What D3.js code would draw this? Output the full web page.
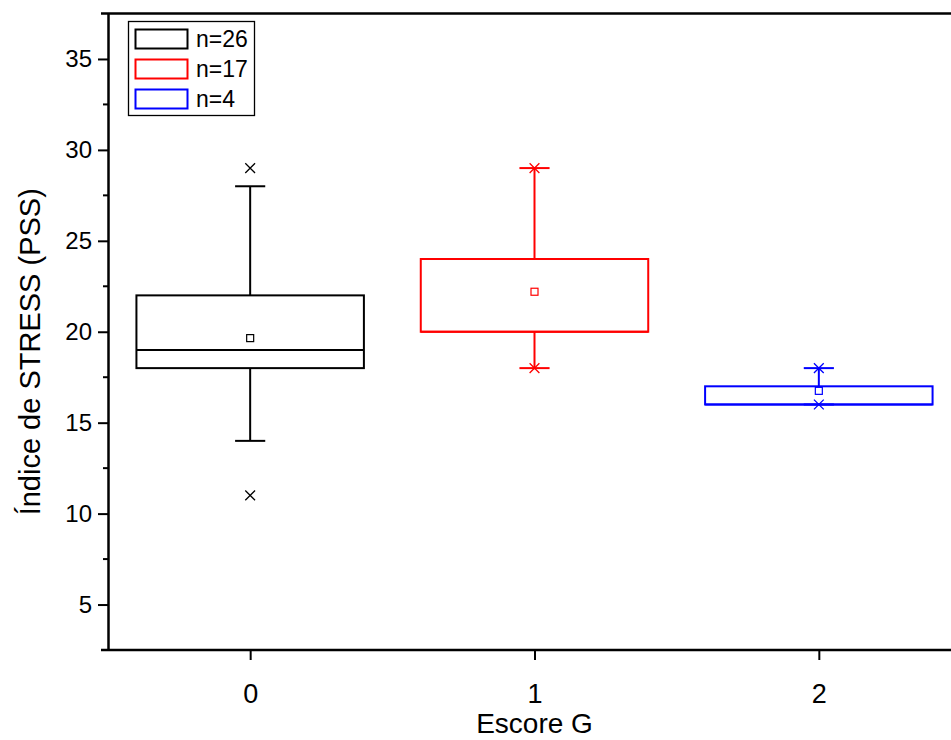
<!DOCTYPE html>
<html>
<head>
<meta charset="utf-8">
<script src="https://cdn.jsdelivr.net/npm/d3@7"></script>
<style>
  body { margin: 0; background: #fff; }
  text { font-family: "Liberation Sans", Arial, sans-serif; }
</style>
</head>
<body>
<div id="chart"></div>
<script>
// Box plot data
var groups = [0, 1, 2];
var q1 = [18, 20, 16];
var q3 = [22, 24, 17];
var medians = [19, 20, 16];
var means = [19.65, 22.2, 16.75];
var whiskLo = [14, 18, 16];
var whiskHi = [28, 29, 18];
var minVals = [11, 18, 16];
var maxVals = [29, 29, 18];
var legendLabels = ["n=26", "n=17", "n=4"];
var colors = ["#000000", "#ff0000", "#0000ff"];
var yMajor = [5, 10, 15, 20, 25, 30, 35];
var yMinor = [7.5, 12.5, 17.5, 22.5, 27.5, 32.5];

var svgWidth = 951;
var svgHeight = 740;

var svg = d3.select("#chart")
  .append("svg")
  .attr("width", svgWidth)
  .attr("height", svgHeight);

// Scales
var x = d3.scaleLinear().domain([-0.5, 2.5]).range([108, 961]);
var y = d3.scaleLinear().domain([2.5, 37.5]).range([650, 13.5]);

var boxHalf = 0.4;
var capHalf = 0.053;

// Axes
var leftAxis = d3.axisLeft(y).tickValues(yMajor).tickSize(10).tickSizeOuter(0).tickPadding(6);
var bottomAxis = d3.axisBottom(x).tickValues(groups).tickFormat(d3.format("d"))
  .tickSize(10).tickSizeOuter(0).tickPadding(24);

var gy = svg.append("g")
  .attr("transform", `translate(${x.range()[0]}, 0)`)
  .call(leftAxis);
gy.selectAll(".tick line").attr("stroke-width", 2);
gy.selectAll(".tick text").attr("font-size", "24px").attr("fill", "#000");
gy.select(".domain").attr("stroke-width", 2.5);

gy.selectAll(".minor")
  .data(yMinor)
  .enter()
  .append("line")
  .attr("x1", -5)
  .attr("x2", 0)
  .attr("y1", d => y(d))
  .attr("y2", d => y(d))
  .attr("stroke", "#000")
  .attr("stroke-width", 2);

var gx = svg.append("g")
  .attr("transform", `translate(0, ${y.range()[0]})`)
  .call(bottomAxis);
gx.selectAll(".tick line").attr("stroke-width", 2);
gx.selectAll(".tick text").attr("font-size", "27px").attr("fill", "#000");
gx.select(".domain").remove();

// bottom and top frame lines
[y.range()[0], y.range()[1]].forEach(function(yy) {
  svg.append("line")
    .attr("x1", x.range()[0] - 7)
    .attr("x2", svgWidth)
    .attr("y1", yy)
    .attr("y2", yy)
    .attr("stroke", "#000")
    .attr("stroke-width", 2.5);
});

// Boxes
var plot = svg.append("g");
groups.forEach(function(g, i) {
  var c = colors[i];
  var cx = x(g);
  // whiskers
  plot.append("line")
    .attr("x1", cx).attr("x2", cx)
    .attr("y1", y(q3[i])).attr("y2", y(whiskHi[i]))
    .attr("stroke", c).attr("stroke-width", 2);
  plot.append("line")
    .attr("x1", cx).attr("x2", cx)
    .attr("y1", y(q1[i])).attr("y2", y(whiskLo[i]))
    .attr("stroke", c).attr("stroke-width", 2);
  [whiskHi[i], whiskLo[i]].forEach(function(v) {
    plot.append("line")
      .attr("x1", x(g - capHalf)).attr("x2", x(g + capHalf))
      .attr("y1", y(v)).attr("y2", y(v))
      .attr("stroke", c).attr("stroke-width", 2);
  });
  // box
  plot.append("rect")
    .attr("x", x(g - boxHalf))
    .attr("y", y(q3[i]))
    .attr("width", x(g + boxHalf) - x(g - boxHalf))
    .attr("height", y(q1[i]) - y(q3[i]))
    .attr("fill", "none")
    .attr("stroke", c)
    .attr("stroke-width", 2);
  // median
  plot.append("line")
    .attr("x1", x(g - boxHalf)).attr("x2", x(g + boxHalf))
    .attr("y1", y(medians[i])).attr("y2", y(medians[i]))
    .attr("stroke", c).attr("stroke-width", 2);
  // mean
  plot.append("rect")
    .attr("x", cx - 3.5)
    .attr("y", y(means[i]) - 3.5)
    .attr("width", 7)
    .attr("height", 7)
    .attr("fill", "#fff")
    .attr("stroke", c)
    .attr("stroke-width", 1.2);
  // min / max markers
  [minVals[i], maxVals[i]].forEach(function(v) {
    plot.append("path")
      .attr("d", d3.symbol(d3.symbolX, 64)())
      .attr("transform", `translate(${cx}, ${y(v)})`)
      .attr("fill", "none")
      .attr("stroke", c)
      .attr("stroke-width", 1.3);
  });
});

// Legend
var legend = svg.append("g");
legend.append("rect")
  .attr("x", 128.5).attr("y", 21.5)
  .attr("width", 126).attr("height", 94)
  .attr("fill", "#fff")
  .attr("stroke", "#000")
  .attr("stroke-width", 1.3);
legendLabels.forEach(function(lab, i) {
  legend.append("rect")
    .attr("x", 135.5).attr("y", 29.5 + i * 30)
    .attr("width", 52).attr("height", 19)
    .attr("fill", "#fff")
    .attr("stroke", colors[i])
    .attr("stroke-width", 2);
  legend.append("text")
    .attr("x", 196).attr("y", 47 + i * 30)
    .attr("font-size", "23px")
    .attr("fill", "#000")
    .text(lab);
});

// Axis titles
svg.append("text")
  .attr("transform", `translate(40, ${(y.range()[0] + y.range()[1]) / 2 + 20}) rotate(-90)`)
  .attr("text-anchor", "middle")
  .attr("font-size", "29px")
  .attr("fill", "#000")
  .text("Índice de STRESS (PSS)");

svg.append("text")
  .attr("x", x(1))
  .attr("y", 733)
  .attr("text-anchor", "middle")
  .attr("font-size", "28px")
  .attr("fill", "#000")
  .text("Escore G");
</script>
</body>
</html>
